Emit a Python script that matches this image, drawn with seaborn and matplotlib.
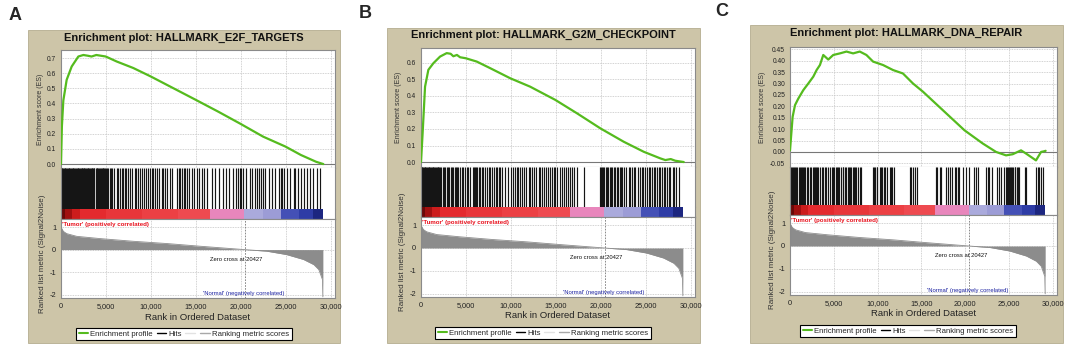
"""
Recreate three GSEA enrichment plots (E2F targets, G2M checkpoint, DNA repair) side by side.
"""

# Library importation
import seaborn as sns                                                       # Line drawing for the profiles and metric scores.
import matplotlib.pyplot as plt                                             # Figure, axes and patches.
from matplotlib.lines import Line2D                                         # Legend handles.
from matplotlib.patches import Rectangle                                    # Tan panel backgrounds.
from matplotlib.ticker import FuncFormatter

# Ranked list metric (Signal2Noise), same ordered dataset in every panel
metric_rank = [0, 60, 260, 630, 1750, 4350, 8050, 11780, 15500, 20427, 22900, 25100, 27000, 28150, 28700, 29100, 29150]
metric_score = [1.05, 0.95, 0.81, 0.71, 0.59, 0.49, 0.37, 0.27, 0.15, 0.0, -0.07, -0.22, -0.44, -0.67, -0.89, -1.33, -2.1]

# Heat bar under the hits: band edges (rank) and colours
band_edges = [0, 500, 1200, 2100, 5000, 9000, 13000, 16600, 20400, 22500, 24500, 26500, 28000, 29150]
band_colors = ['#6a0808', '#a01010', '#cc1c1c', '#e42a2e', '#e8363a', '#ec4044', '#ee4a50',
               '#e886bc', '#aaaadc', '#9c9cd6', '#4450b6', '#2e3ca6', '#1c2680']

# Panel A: HALLMARK_E2F_TARGETS
es_rank_a = [0, 100, 260, 630, 1190, 1930, 2490, 3000, 3400, 3930, 4980, 6200, 8050, 10000, 12500,
             15000, 17500, 20000, 22500, 25000, 26700, 28400, 29200]
es_score_a = [0.0, 0.25, 0.42, 0.556, 0.644, 0.71, 0.72, 0.715, 0.71, 0.72, 0.71, 0.677, 0.634, 0.578, 0.501,
              0.424, 0.346, 0.265, 0.181, 0.115, 0.06, 0.015, 0.0]
hits_a = [0, 80, 160, 240, 330, 420, 500, 590, 680, 760, 850, 940, 1030, 1120, 1210, 1300, 1390, 1480,
          1570, 1660, 1750, 1840, 1930, 2120, 2250, 2380, 2530, 2680, 2870, 3040, 3250, 3420, 3560, 3710,
          3980, 4150, 4350, 4550, 4720, 4900, 5090, 5460, 5720, 6210, 6580, 6950, 7210, 7690, 8250, 8620,
          9060, 9440, 9920, 10290, 10670, 11220, 11590, 12150, 12900, 13270, 13640, 14010, 14570, 15120,
          15680, 15940, 17170, 18020, 18390, 19170, 19510, 19730, 20030, 20260, 21260, 21820, 22260,
          22670, 23490, 24230, 24490, 24860, 25160, 25900, 26340, 27090, 27390, 27760, 28800,
          2000, 2300, 2450, 2600, 2780, 2950, 3150, 3330, 3480, 3640, 3850, 4050, 4250, 4450, 4640, 4820,
          5000, 5250, 5600, 5900, 6400, 6750, 7100, 7450, 7900, 8400, 8800, 9250, 9700, 10100, 10500,
          10900, 11400, 11800, 12400, 13100, 13450, 13850, 14300, 14800, 15400, 16300, 16800, 17600,
          18700, 19950, 20600, 21050, 21550, 22000, 22450, 23100, 23800, 24650, 25500, 26100, 26700,
          28100, 28500]

# Panel B: HALLMARK_G2M_CHECKPOINT
es_rank_b = [0, 180, 450, 820, 1380, 2120, 2860, 3300, 3600, 4000, 4350, 4980, 6200, 7700, 9930, 12150,
             14950, 17360, 19960, 22560, 24800, 26650, 27200, 27800, 28300, 29250]
es_score_b = [0.0, 0.174, 0.456, 0.558, 0.598, 0.638, 0.659, 0.655, 0.64, 0.648, 0.634, 0.628, 0.608, 0.568,
              0.507, 0.456, 0.376, 0.295, 0.204, 0.123, 0.062, 0.022, 0.012, 0.018, 0.008, 0.0]
hits_b = [0, 80, 160, 240, 330, 420, 500, 590, 680, 760, 850, 940, 1030, 1120, 1210, 1300, 1390, 1480,
          1570, 1660, 1750, 1840, 1930, 2120, 2420, 2680, 2860, 3160, 3420, 3900, 4160, 4530, 4910, 5280,
          5760, 6020, 6280, 6580, 6950, 7400, 7690, 8140, 8440, 8810, 9000, 10000, 10220, 10480, 10850,
          11230, 11710, 11970, 12340, 12820, 13080, 13460, 13940, 14390, 14760, 15130, 15430, 15690, 16170,
          16620, 17060, 17360, 18100, 19890, 20150, 20410, 20700, 21000, 21260, 21450, 21820, 22120, 22380,
          22560, 23120, 23490, 23860, 24420, 24720, 25160, 25540, 25910, 26280, 26650, 27020, 27400, 27770,
          28140, 28700,
          2000, 2270, 2550, 3000, 3300, 3600, 3750, 4030, 4350, 4700, 5100, 5500, 5900, 6150, 6430, 6800,
          7150, 7550, 7900, 8300, 8650, 9300, 9650, 10650, 11050, 11450, 12150, 12550, 13300, 13700, 14150,
          14550, 14950, 15900, 16400, 16850, 20000, 20300, 20550, 20850, 21150, 21650, 21950, 22250, 22800,
          23300, 23700, 24100, 24550, 24950, 25350, 25750, 26100, 26450, 26850, 27200, 27600, 28000, 28400]

# Panel C: HALLMARK_DNA_REPAIR
es_rank_c = [0, 300, 570, 950, 1520, 2090, 2660, 3040, 3420, 3800, 4370, 4940, 5700, 6450, 7210, 7970,
             8730, 9490, 10630, 11770, 12900, 14050, 15190, 17460, 19930, 22020, 23540, 24680, 25440, 26390,
             26960, 27530, 28100, 28680, 29050, 29200]
es_score_c = [0.007, 0.154, 0.205, 0.234, 0.271, 0.300, 0.330, 0.359, 0.381, 0.425, 0.405, 0.425, 0.432,
              0.44, 0.432, 0.44, 0.425, 0.396, 0.381, 0.359, 0.344, 0.300, 0.264, 0.183, 0.095, 0.037, 0.0,
              -0.015, -0.01, 0.007, -0.007, -0.022, -0.037, 0.0, 0.003, 0.005]
hits_c = [80, 300, 460, 680, 840, 1140, 1330, 1590, 1900, 2090, 2280, 2580, 2850, 3110, 3420, 3800, 4100,
          4560, 4750, 5010, 5240, 5510, 5770, 6000, 6270, 6450, 6760, 7020, 7290, 7590, 7780, 8160, 9490,
          9760, 9990, 10250, 10560, 10820, 11390, 11580, 11850, 13670, 14050, 14500, 16630, 17270, 18030,
          18530, 18980, 19360, 20120, 21070, 21450, 22400, 22780, 23840, 24490, 24750, 25060, 25250, 25510,
          25740, 26000, 26960, 28100, 28470, 28850,
          0, 180, 560, 1000, 1250, 1450, 1750, 2450, 2700, 3000, 3250, 3600, 3950, 4300, 4900, 5400, 5650,
          6100, 6600, 6900, 7150, 7450, 7950, 9600, 9900, 10400, 10700, 11100, 11700, 13850, 14300, 16800,
          17100, 17800, 18300, 18800, 19150, 19800, 20500, 21250, 22600, 23100, 23600, 24100, 24650, 24900,
          25150, 25400, 25650, 25900, 26200, 26800, 28300, 28700]

# Figure size in pixels and shared styles
W, H = 1065, 345
TAN = '#cdc5a8'
GREEN = '#55bb1e'
GRID = dict(color='#c4c4c4', linestyle=(0, (1, 1)), linewidth=0.6)
SPINE = '#8a8a8a'
X_MAX = 30500


def px_rect(left, top, right, bottom):
    '''Convert a pixel box (top-left origin) to a figure rectangle.'''
    return [left / W, 1 - bottom / H, (right - left) / W, (bottom - top) / H]


def style_axes(ax, spines=('left', 'right', 'top', 'bottom')):
    # White plot area, gray frame on the sides asked for, nothing elsewhere.
    ax.set_facecolor('white')
    ax.set_zorder(2)
    for side in ['left', 'right', 'top', 'bottom']:
        ax.spines[side].set_visible(side in spines)
        ax.spines[side].set_color(SPINE)
        ax.spines[side].set_linewidth(0.8)
    ax.set_xlim(0, X_MAX)
    ax.tick_params(length=2, width=0.5, color='#555555', pad=1.5, labelcolor='#222222')


def enrichment_panel(fig, box, letter, title, es_rank, es_score, hits, es_lim, es_ticks, es_fmt):
    '''
    Draw one complete GSEA enrichment plot inside the pixel layout "box".
    '''
    # Tan background and panel letter
    l, t, r, b = box['tan']
    fig.patches.append(Rectangle((l / W, 1 - b / H), (r - l) / W, (b - t) / H, transform=fig.transFigure,
                                 facecolor=TAN, edgecolor='#b5ad90', linewidth=0.6, zorder=-10))
    fig.text(box['letter'][0] / W, 1 - box['letter'][1] / H, letter, fontsize=13, fontweight='bold',
             ha='center', va='center')
    fig.text((l + r) / 2 / W, 1 - box['title_y'] / H, 'Enrichment plot: ' + title, fontsize=8,
             fontweight='bold', ha='center', va='center', color='#111111')

    al, ar = box['ax_lr']
    es_top, es_bot, hits_bot, cbar_bot, met_bot = box['rows']

    # Enrichment score profile
    ax_es = fig.add_axes(px_rect(al, es_top, ar, es_bot))
    style_axes(ax_es)
    ax_es.set_ylim(*es_lim)
    ax_es.set_yticks(es_ticks)
    ax_es.yaxis.set_major_formatter(FuncFormatter(lambda v, p: es_fmt.format(v)))
    ax_es.set_xticks(range(0, 30001, 5000))
    ax_es.tick_params(axis='x', length=0, labelbottom=False)
    ax_es.tick_params(axis='y', labelsize=4.8)
    ax_es.grid(True, **GRID)
    ax_es.axhline(0, color='#777777', linewidth=0.8, zorder=1)
    sns.lineplot(x=es_rank, y=es_score, ax=ax_es, color=GREEN, linewidth=1.6, estimator=None, zorder=3)
    ax_es.set_xlim(0, X_MAX)
    ax_es.set_xlabel('')
    ax_es.set_ylabel('')
    fig.text(box['es_label_x'] / W, 1 - (es_top + es_bot) / 2 / H, 'Enrichment score (ES)', rotation=90,
             fontsize=5.0, ha='center', va='center', color='#333333')

    # Hits
    ax_hits = fig.add_axes(px_rect(al, es_bot, ar, hits_bot))
    style_axes(ax_hits, spines=('left', 'right'))
    ax_hits.set_ylim(0, 1)
    ax_hits.vlines(hits, 0, 1, color='#151515', linewidth=0.85)
    ax_hits.set_xticks([])
    ax_hits.set_yticks([])

    # Heat bar of the ranked list
    ax_bar = fig.add_axes(px_rect(al, hits_bot, ar, cbar_bot))
    style_axes(ax_bar, spines=('left', 'right', 'bottom'))
    ax_bar.set_ylim(0, 1)
    for k, color in enumerate(band_colors):
        ax_bar.axvspan(band_edges[k], band_edges[k + 1], color=color, linewidth=0)
    ax_bar.set_xticks([])
    ax_bar.set_yticks([])

    # Ranked list metric
    ax_m = fig.add_axes(px_rect(al, cbar_bot, ar, met_bot))
    style_axes(ax_m)
    ax_m.set_ylim(-2.15, 1.36)
    ax_m.set_yticks([1, 0, -1, -2])
    ax_m.set_xticks(range(0, 30001, 5000))
    ax_m.xaxis.set_major_formatter(FuncFormatter(lambda v, p: f'{int(v):,}'))
    ax_m.tick_params(axis='both', labelsize=5.3)
    ax_m.grid(True, **GRID)
    ax_m.fill_between(metric_rank, metric_score, 0, color='#8c8c8c', linewidth=0, zorder=2)
    sns.lineplot(x=metric_rank, y=metric_score, ax=ax_m, color='#8c8c8c', linewidth=0.6, estimator=None,
                 zorder=2)
    ax_m.set_xlim(0, X_MAX)
    ax_m.axvline(20427, color='#777777', linestyle=(0, (2, 1.5)), linewidth=0.6, zorder=3)
    ax_m.text(150, 1.12, "'Tumor' (positively correlated)", color='#e8101c', fontsize=4.4, ha='left',
              va='center', fontweight='bold', zorder=5)
    ax_m.text(19500, -0.43, 'Zero cross at 20427', color='#111111', fontsize=4.2, ha='center', va='center')
    ax_m.text(20300, -1.95, "'Normal' (negatively correlated)", color='#1a20a0', fontsize=4.2, ha='center',
              va='center')
    ax_m.set_xlabel('')
    ax_m.set_ylabel('')
    fig.text(box['met_label_x'] / W, 1 - (hits_bot + met_bot) / 2 / H, 'Ranked list metric (Signal2Noise)',
             rotation=90, fontsize=5.8, ha='center', va='center', color='#333333')
    fig.text((al + ar) / 2 / W, 1 - box['xlabel_y'] / H, 'Rank in Ordered Dataset', fontsize=6.8,
             ha='center', va='center', color='#222222')

    # Legend box below
    handles = [Line2D([], [], color=GREEN, linewidth=1.5), Line2D([], [], color='black', linewidth=1),
               Line2D([], [], color='#e2e2e2', linewidth=1), Line2D([], [], color='#a8a8a8', linewidth=1)]
    labels = ['Enrichment profile', 'Hits', '', 'Ranking metric scores']
    lx, ly = box['legend']
    leg = fig.legend(handles, labels, loc='center', bbox_to_anchor=(lx / W, 1 - ly / H), ncol=4,
                     fontsize=5.6, handlelength=1.2, handletextpad=0.3, columnspacing=0.45, borderpad=0.3,
                     fancybox=False, framealpha=1, edgecolor='black')
    leg.get_frame().set_linewidth(0.8)


# Run the script as a standalone application
if __name__ == "__main__":
    sns.set_style('white')
    plt.rcParams['font.family'] = ['Liberation Sans', 'DejaVu Sans']
    plt.rcParams['axes.unicode_minus'] = False

    fig = plt.figure(figsize=(W / 100, H / 100), dpi=100)

    box_a = dict(tan=(28, 30, 340, 343), letter=(15, 15), title_y=38, ax_lr=(61, 335),
                 rows=(50, 168, 209, 219, 298), es_label_x=40, met_label_x=43, xlabel_y=317, legend=(184, 334))
    box_b = dict(tan=(387, 28, 700, 343), letter=(365, 13), title_y=35, ax_lr=(421, 695),
                 rows=(48, 167, 207, 217, 297), es_label_x=398, met_label_x=403, xlabel_y=316, legend=(543, 333))
    box_c = dict(tan=(750, 25, 1063, 343), letter=(722, 12), title_y=33, ax_lr=(790, 1057),
                 rows=(47, 167, 205, 215, 295), es_label_x=763, met_label_x=772, xlabel_y=313, legend=(908, 331))

    enrichment_panel(fig, box_a, 'A', 'HALLMARK_E2F_TARGETS', es_rank_a, es_score_a, hits_a,
                     (-0.026, 0.753), [round(0.1 * k, 1) for k in range(8)], '{:.1f}')
    enrichment_panel(fig, box_b, 'B', 'HALLMARK_G2M_CHECKPOINT', es_rank_b, es_score_b, hits_b,
                     (-0.03, 0.69), [round(0.1 * k, 1) for k in range(7)], '{:.1f}')
    enrichment_panel(fig, box_c, 'C', 'HALLMARK_DNA_REPAIR', es_rank_c, es_score_c, hits_c,
                     (-0.066, 0.46), [round(0.05 * k, 2) for k in range(-1, 10)], '{:.2f}')

    fig.savefig('out.png', dpi=100)
